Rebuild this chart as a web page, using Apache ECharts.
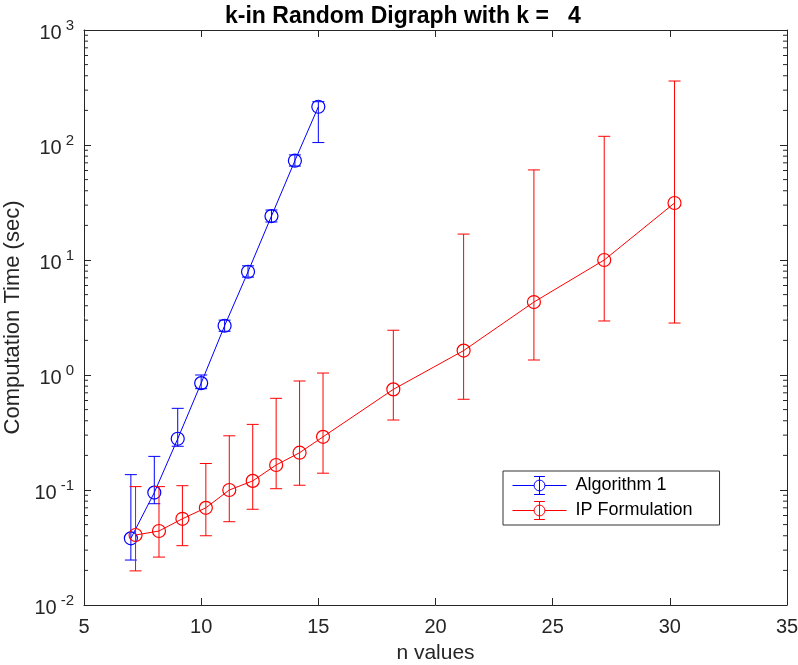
<!DOCTYPE html>
<html>
<head>
<meta charset="utf-8">
<script src="https://cdn.jsdelivr.net/npm/echarts@6/dist/echarts.min.js"></script>
<style>
  html, body { margin: 0; padding: 0; background: #fff; }
  #chart { width: 798px; height: 665px; }
</style>
</head>
<body>
<div id="chart"></div>
<script>
// Algorithm 1 (blue)
var algoX = [7, 8, 9, 10, 11, 12, 13, 14, 15];
var algoMean = [0.038, 0.095, 0.279, 0.85, 2.68, 7.9, 24.1, 73, 215];
var algoLow = [0.0246, 0.076, 0.24, 0.76, 2.4, 7.1, 21.4, 65.6, 105];
var algoHigh = [0.136, 0.196, 0.513, 1.0, 3.0, 8.9, 27.2, 82, 238];

// IP Formulation (red)
var ipX = [7.2, 8.2, 9.2, 10.2, 11.2, 12.2, 13.2, 14.2, 15.2, 18.2, 21.2, 24.2, 27.2, 30.2];
var ipMean = [0.0406, 0.044, 0.0562, 0.070, 0.100, 0.120, 0.165, 0.211, 0.29, 0.75, 1.63, 4.31, 10.0, 31.3];
var ipLow = [0.0198, 0.0261, 0.0328, 0.040, 0.053, 0.068, 0.1026, 0.11, 0.14, 0.406, 0.615, 1.35, 2.95, 2.83];
var ipHigh = [0.107, 0.107, 0.109, 0.17, 0.296, 0.372, 0.627, 0.887, 1.04, 2.45, 16.8, 60.7, 119, 360];

// axes
var xTicks = [5, 10, 15, 20, 25, 30, 35];
var yDecades = [0.01, 0.1, 1, 10, 100, 1000];

var chartDom = document.getElementById('chart');
var myChart = echarts.init(chartDom);
var option;

var axisColor = '#262626';
var font = 'Liberation Sans, Arial, Helvetica, sans-serif';

// legend glyph: line + circle + error bar
var errIcon = 'path://M0 10 L24 10 M36 10 L60 10 M36 10 A6 6 0 1 1 24 10 A6 6 0 1 1 36 10 M30 0 L30 20 M24 0 L36 0 M24 20 L36 20';

function pairs(xs, ys) {
    return xs.map(function (x, i) { return [x, ys[i]]; });
}
function errData(xs, lo, hi) {
    return xs.map(function (x, i) { return [x, lo[i], hi[i]]; });
}

// minor ticks between decades (2..9 x 10^k)
var minorVals = [];
for (var d = 0; d < yDecades.length - 1; d++) {
    for (var m = 2; m <= 9; m++) {
        minorVals.push([5, yDecades[d] * m]);
    }
}

function errorBarItem(color) {
    return function (params, api) {
        var x = api.value(0);
        var lo = api.coord([x, api.value(1)]);
        var hi = api.coord([x, api.value(2)]);
        var hw = 6;
        var style = { stroke: color, lineWidth: 1 };
        return {
            type: 'group',
            children: [
                { type: 'line', shape: { x1: lo[0], y1: lo[1], x2: hi[0], y2: hi[1] }, style: style },
                { type: 'line', shape: { x1: lo[0] - hw, y1: lo[1], x2: lo[0] + hw, y2: lo[1] }, style: style },
                { type: 'line', shape: { x1: hi[0] - hw, y1: hi[1], x2: hi[0] + hw, y2: hi[1] }, style: style }
            ]
        };
    };
}

function minorTickItem(params, api) {
    var left = api.coord([5, api.value(1)]);
    var right = api.coord([35, api.value(1)]);
    var style = { stroke: axisColor, lineWidth: 1 };
    return {
        type: 'group',
        children: [
            { type: 'line', shape: { x1: left[0], y1: left[1], x2: left[0] + 4, y2: left[1] }, style: style },
            { type: 'line', shape: { x1: right[0], y1: right[1], x2: right[0] - 4, y2: right[1] }, style: style }
        ]
    };
}

var yLabelFormatter = function (v) {
    var e = Math.round(Math.log10(v));
    return '{b|10}{e|' + e + '}';
};

option = {
    animation: false,
    backgroundColor: '#fff',
    title: {
        text: 'k-in Random Digraph with k =   4',
        left: 220,
        top: 0,
        textStyle: { fontFamily: font, fontSize: 23, fontWeight: 'bold', color: '#000' }
    },
    legend: {
        left: 503,
        top: 471,
        orient: 'vertical',
        data: [
            { name: 'Algorithm 1', icon: errIcon, itemStyle: { color: 'none', borderColor: '#0000ff', borderWidth: 1 } },
            { name: 'IP Formulation', icon: errIcon, itemStyle: { color: 'none', borderColor: '#ff0000', borderWidth: 1 } }
        ],
        itemWidth: 62,
        itemHeight: 18,
        itemGap: 2,
        padding: [3, 27, 3, 7],
        borderColor: '#333',
        borderWidth: 1,
        backgroundColor: '#fff',
        textStyle: { fontFamily: font, fontSize: 18, color: '#000' }
    },
    grid: { left: 84, right: 11, top: 30, bottom: 60, outerBoundsMode: 'none' },
    xAxis: [{
        type: 'value',
        min: 5,
        max: 35,
        interval: 5,
        name: 'n values',
        nameLocation: 'middle',
        nameGap: 38,
        nameTextStyle: { fontFamily: font, fontSize: 21, color: axisColor },
        axisLine: { lineStyle: { color: axisColor } },
        axisTick: { inside: true, length: 7, lineStyle: { color: axisColor } },
        axisLabel: { fontFamily: font, fontSize: 20, color: axisColor, margin: 12 },
        splitLine: { show: false }
    }, {
        type: 'value',
        position: 'top',
        min: 5,
        max: 35,
        interval: 5,
        axisLine: { lineStyle: { color: axisColor } },
        axisTick: { inside: true, length: 7, lineStyle: { color: axisColor } },
        axisLabel: { show: false },
        splitLine: { show: false }
    }],
    yAxis: [{
        type: 'log',
        logBase: 10,
        min: yDecades[0],
        max: yDecades[yDecades.length - 1],
        splitNumber: 5,
        name: 'Computation Time (sec)',
        nameLocation: 'middle',
        nameGap: 60,
        nameTextStyle: { fontFamily: font, fontSize: 22, color: axisColor },
        axisLine: { lineStyle: { color: axisColor } },
        axisTick: { inside: true, length: 7, lineStyle: { color: axisColor } },
        axisLabel: {
            formatter: yLabelFormatter,
            margin: 10,
            rich: {
                b: { fontFamily: font, fontSize: 20, color: axisColor, padding: [6, 0, 0, 0] },
                e: { fontFamily: font, fontSize: 15, color: axisColor, padding: [0, 0, 9, 4] }
            }
        },
        splitLine: { show: false }
    }, {
        type: 'log',
        logBase: 10,
        position: 'right',
        min: yDecades[0],
        max: yDecades[yDecades.length - 1],
        splitNumber: 5,
        axisLine: { lineStyle: { color: axisColor } },
        axisTick: { inside: true, length: 7, lineStyle: { color: axisColor } },
        axisLabel: { show: false },
        splitLine: { show: false }
    }],
    series: [
        {
            name: 'minorTicks',
            type: 'custom',
            silent: true,
            renderItem: minorTickItem,
            data: minorVals,
            z: 1
        },
        {
            name: 'algoErr',
            type: 'custom',
            renderItem: errorBarItem('#0000ff'),
            data: errData(algoX, algoLow, algoHigh),
            z: 2
        },
        {
            name: 'Algorithm 1',
            type: 'line',
            data: pairs(algoX, algoMean),
            symbol: 'circle',
            symbolSize: 13,
            itemStyle: { color: 'rgba(0,0,0,0)', borderColor: '#0000ff', borderWidth: 1.2 },
            lineStyle: { color: '#0000ff', width: 1 },
            z: 3
        },
        {
            name: 'ipErr',
            type: 'custom',
            renderItem: errorBarItem('#ff0000'),
            data: errData(ipX, ipLow, ipHigh),
            z: 4
        },
        {
            name: 'IP Formulation',
            type: 'line',
            data: pairs(ipX, ipMean),
            symbol: 'circle',
            symbolSize: 13,
            itemStyle: { color: 'rgba(0,0,0,0)', borderColor: '#ff0000', borderWidth: 1.2 },
            lineStyle: { color: '#ff0000', width: 1 },
            z: 5
        }
    ]
};
option && myChart.setOption(option);
</script>
</body>
</html>
